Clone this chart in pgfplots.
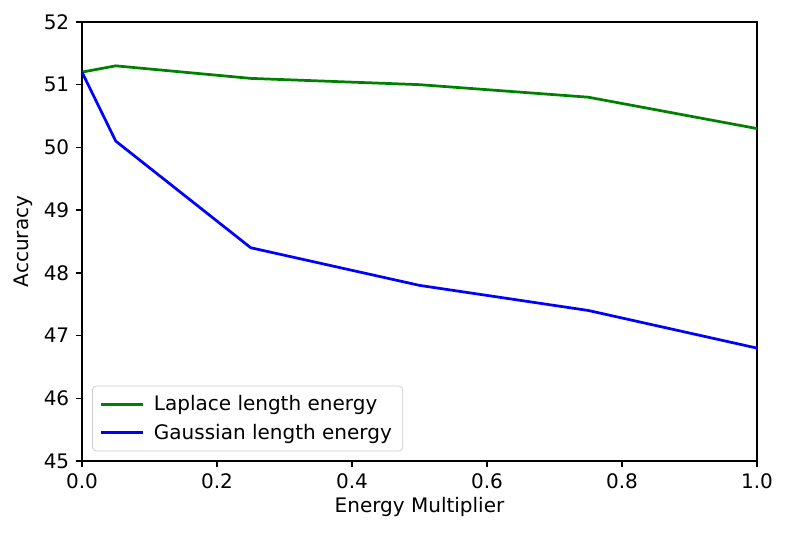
\documentclass[border=0pt]{standalone}
\usepackage{pgfplots}
\pgfplotsset{compat=1.18}
\usepackage{fontspec}
\setmainfont{DejaVu Sans}
\definecolor{mplgreen}{rgb}{0,0.5,0}
\definecolor{mplblue}{rgb}{0,0,1}
\begin{document}
\begin{tikzpicture}[x=0.55pt,y=0.55pt]
\begin{axis}[
  at={(0,0)}, anchor=south west,
  scale only axis,
  width=371.25pt, height=241.5pt,
  xmin=0, xmax=1, ymin=45, ymax=52,
  xtick={0,0.2,0.4,0.6,0.8,1.0},
  ytick={45,46,47,48,49,50,51,52},
  xticklabel style={/pgf/number format/.cd,fixed,fixed zerofill,precision=1},
  /pgf/number format/assume math mode=true,
  tick align=outside,
  major tick length=3.5pt,
  tick style={black, line width=0.8pt},
  axis line style={line width=0.8pt},
  xtick pos=bottom, ytick pos=left,
  font=\fontsize{11}{13}\selectfont,
  ticklabel style={font=\fontsize{11}{13}\selectfont},
  xlabel={Energy Multiplier},
  ylabel={Accuracy},
  xlabel style={yshift=2pt},
  ylabel style={yshift=-1pt},
  legend style={at={(0.015,0.022)}, anchor=south west, draw=black!20, rounded corners=2pt, fill=white, font=\fontsize{11}{13}\selectfont, inner xsep=4pt, inner ysep=3pt, row sep=2pt},
  legend cell align=left,
  legend image code/.code={\draw[#1, line width=1.6pt] (0pt,0pt) -- (23pt,0pt); \path[draw=none,fill=none] (0pt,-0.1pt) rectangle (27pt,0.1pt);},
]
\addplot[mplgreen, line width=1.5pt] coordinates {(0,51.2) (0.05,51.3) (0.25,51.1) (0.5,51.0) (0.75,50.8) (1.0,50.3)};
\addlegendentry{Laplace length energy}
\addplot[mplblue, line width=1.5pt] coordinates {(0,51.2) (0.05,50.1) (0.25,48.4) (0.5,47.8) (0.75,47.4) (1.0,46.8)};
\addlegendentry{Gaussian length energy}
\end{axis}
\pgfresetboundingbox
\path[use as bounding box] (-82,-76) rectangle (706,461);
\end{tikzpicture}
\end{document}
